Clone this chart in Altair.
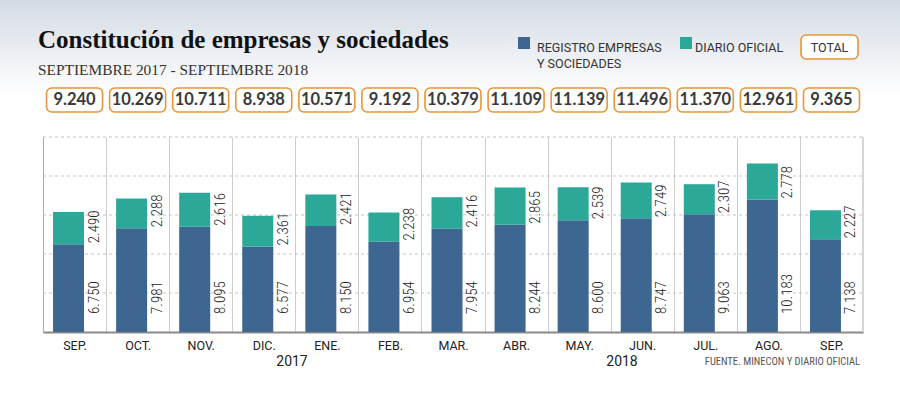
import altair as alt
import pandas as pd

meses = ["SEP.", "OCT.", "NOV.", "DIC.", "ENE.", "FEB.", "MAR.", "ABR.", "MAY.", "JUN.", "JUL.", "AGO.", "SEP."]
anios = ["2017", "2017", "2017", "2017", "2018", "2018", "2018", "2018", "2018", "2018", "2018", "2018", "2018"]
registro = [6750, 7981, 8095, 6577, 8150, 6954, 7954, 8244, 8600, 8747, 9063, 10183, 7138]
diario = [2490, 2288, 2616, 2361, 2421, 2238, 2416, 2865, 2539, 2749, 2307, 2778, 2227]
totales = [9240, 10269, 10711, 8938, 10571, 9192, 10379, 11109, 11139, 11496, 11370, 12961, 9365]
ticks_y = [3000, 6000, 9000, 12000, 15000]

AZUL = "#3d6690"
VERDE = "#2ba898"
NARANJA = "#e8953a"
W, H = 820, 195
TOP = 137


def fmt(v):
    return f"{v:,}".replace(",", ".")


claves = [f"{m} {a}" for m, a in zip(meses, anios)]
df = pd.DataFrame({
    "clave": claves,
    "registro": registro,
    "diario": diario,
    "total": totales,
    "reg_txt": [fmt(v) for v in registro],
    "dia_txt": [fmt(v) for v in diario],
    "tot_txt": [fmt(v) for v in totales],
})

one = pd.DataFrame({"a": [0]})


def Y(v):
    # absolute page y -> plot y
    return v - TOP


x = alt.X(
    "clave:N", sort=claves,
    scale=alt.Scale(paddingInner=0, paddingOuter=0),
    axis=alt.Axis(title=None, labelExpr="split(datum.label, ' ')[0]", labelAngle=0,
                  tickBand="extent", ticks=False, grid=True, gridColor="#cccccc", gridWidth=1,
                  domainColor="#8a8a8a", domainWidth=2, labelFont="Roboto", labelFontSize=12.5,
                  labelColor="#222222", labelPadding=7),
)
yscale = alt.Scale(domain=[0, 15000], nice=False)
yaxis = alt.Axis(title=None, labels=False, ticks=False, grid=False,
                 domainColor="#aaaaaa", domainWidth=1)

base = alt.Chart(df)

grad = alt.Chart(one).mark_rect(
    color=alt.Gradient(gradient="linear",
                       stops=[alt.GradientStop(color="#d4dbe4", offset=0),
                              alt.GradientStop(color="#ffffff", offset=1)],
                       x1=0, x2=0, y1=0, y2=1)
).encode(x=alt.value(-43), x2=alt.value(857), y=alt.value(Y(0)), y2=alt.value(Y(96)))

grid_y = alt.Chart(pd.DataFrame({"v": ticks_y})).mark_rule(
    color="#c4c4c4", strokeWidth=1, strokeDash=[3, 3]
).encode(y=alt.Y("v:Q", scale=yscale, axis=yaxis), x=alt.value(0), x2=alt.value(W))

bar_reg = base.mark_bar(width=31, xOffset=-6, color=AZUL).encode(
    x=x, y=alt.Y("registro:Q", scale=yscale, axis=yaxis))
bar_dia = base.transform_calculate(tope="datum.registro + datum.diario").mark_bar(
    width=31, xOffset=-6, color=VERDE).encode(x=x, y="registro:Q", y2="tope:Q")

lbl_font = "Liberation Sans Narrow, Roboto Condensed, Roboto"
txt_reg = base.mark_text(angle=270, align="left", baseline="middle", xOffset=19, yOffset=-18,
                         font=lbl_font, fontSize=15, fontWeight=300, color="#222222").encode(
    x=x, y=alt.datum(0), text="reg_txt:N")
txt_dia = base.mark_text(angle=270, align="left", baseline="middle", xOffset=19, yOffset=-1,
                         font=lbl_font, fontSize=15, fontWeight=300, color="#222222").encode(
    x=x, y="registro:Q", text="dia_txt:N")

box_tot = base.mark_bar(width=56, cornerRadius=5, fill="white", stroke=NARANJA,
                        strokeWidth=1.6).encode(x=x, y=alt.value(Y(88)), y2=alt.value(Y(112)))
txt_tot = base.mark_text(font="Lato", fontWeight="bold", fontSize=16.5, color="#3a3a3a",
                         baseline="middle").encode(x=x, y=alt.value(Y(100)), text="tot_txt:N")


def label(t, xp, yp, size, font="Roboto", color="#333333", align="left", weight="normal",
          baseline="middle"):
    return alt.Chart(pd.DataFrame({"t": [t]})).mark_text(
        font=font, fontSize=size, color=color, align=align, fontWeight=weight, baseline=baseline
    ).encode(x=alt.value(xp), y=alt.value(Y(yp)), text="t:N")


titulo = label("Constitución de empresas y sociedades", -5, 47.5, 25, font="Liberation Serif",
               color="#111111", weight="bold", baseline="alphabetic")
subtitulo = label("SEPTIEMBRE 2017 - SEPTIEMBRE 2018", -5, 75, 15.4, font="Liberation Serif",
                  color="#333333", baseline="alphabetic")

sq_az = alt.Chart(one).mark_rect(color=AZUL).encode(
    x=alt.value(475), x2=alt.value(487), y=alt.value(Y(37)), y2=alt.value(Y(49)))
sq_vd = alt.Chart(one).mark_rect(color=VERDE).encode(
    x=alt.value(637), x2=alt.value(649), y=alt.value(Y(37)), y2=alt.value(Y(49)))
box_leg = alt.Chart(one).mark_rect(cornerRadius=5, fill="white", stroke=NARANJA,
                                   strokeWidth=1.6).encode(
    x=alt.value(758), x2=alt.value(815), y=alt.value(Y(35)), y2=alt.value(Y(59)))
leg1 = label("REGISTRO EMPRESAS", 494, 48, 12.5)
leg2 = label("Y SOCIEDADES", 494, 63.5, 12.5)
leg3 = label("DIARIO OFICIAL", 652, 48, 12.5)
leg4 = label("TOTAL", 786.5, 47.5, 12.5, align="center")

y17 = label("2017", 249, 362, 14, color="#222222", align="center")
y18 = label("2018", 579, 362, 14, color="#222222", align="center")
fuente = label("FUENTE. MINECON Y DIARIO OFICIAL", 817, 362, 10.5, font=lbl_font,
               color="#555555", align="right")

right_rule = alt.Chart(one).mark_rule(color="#d6d6d6", strokeWidth=2).encode(
    x=alt.value(W), y=alt.value(0), y2=alt.value(H))

chart = alt.layer(
    grad, grid_y, bar_reg, bar_dia, right_rule, txt_reg, txt_dia, box_tot, txt_tot,
    titulo, subtitulo, sq_az, sq_vd, box_leg, leg1, leg2, leg3, leg4, y17, y18, fuente,
).properties(
    width=W, height=H,
    autosize=alt.AutoSizeParams(type="none"),
    padding={"left": 43, "top": TOP, "right": 37, "bottom": 404 - TOP - H},
    background="white",
).configure_view(stroke=None)

chart.save("out.html", embed_options={"renderer": "svg", "actions": False})
